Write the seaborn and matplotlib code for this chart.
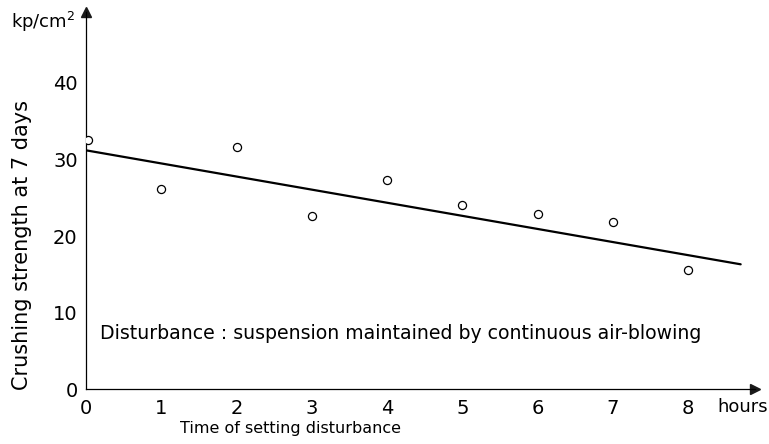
import matplotlib
matplotlib.use("Agg")
import matplotlib.pyplot as plt
import seaborn as sns
import numpy as np
import pandas as pd

# measured points (hours, kp/cm2)
hours = [0.03, 1, 2, 3, 4, 5, 6, 7, 8]
strength = [32.5, 26.1, 31.6, 22.6, 27.3, 24.1, 22.9, 21.8, 15.6]

# fitted trend line end points
line_hours = [0.0, 8.7]
line_strength = [31.2, 16.3]

x_ticks = [0, 1, 2, 3, 4, 5, 6, 7, 8]
y_ticks = [0, 10, 20, 30, 40]

sns.set_theme(style="white", rc={'text.color': 'black', 'axes.labelcolor': 'black'})
plt.rcParams['font.family'] = ['DejaVu Sans']

df = pd.DataFrame({'hours': hours, 'strength': strength})
df_line = pd.DataFrame({'hours': line_hours, 'strength': line_strength})

fig = plt.figure(figsize=(7.69, 4.44), dpi=100)
ax = fig.add_axes([86 / 769, 1 - 389 / 444, (755 - 86) / 769, (389 - 12) / 444])

sns.lineplot(data=df_line, x='hours', y='strength', color='black', linewidth=1.6, ax=ax)
sns.scatterplot(data=df, x='hours', y='strength', marker='o', s=34,
                facecolor='white', edgecolor='black', linewidth=0.9, ax=ax, zorder=3)

ax.set_xlim(0, (755 - 86) / 75.25)
ax.set_ylim(0, (389 - 12) / 7.65)
ax.set_xticks(x_ticks)
ax.set_yticks(y_ticks)
ax.tick_params(axis='x', direction='in', length=4, width=0.8, labelsize=14, pad=7, colors='black')
ax.tick_params(axis='y', direction='out', length=4, width=0.8, labelsize=14, pad=2, colors='black')

for side in ['top', 'right']:
    ax.spines[side].set_visible(False)
for side in ['left', 'bottom']:
    ax.spines[side].set_color('black')
    ax.spines[side].set_linewidth(0.9)

# axis arrows
ax.plot(1, 0, '>k', markersize=7, transform=ax.get_yaxis_transform(), clip_on=False)
ax.plot(0, 1, '^k', markersize=7, transform=ax.get_xaxis_transform(), clip_on=False)

ax.set_xlabel('Time of setting disturbance', fontsize=11.5)
ax.set_ylabel('Crushing strength at 7 days', fontsize=15)
ax.xaxis.set_label_coords((290 - 86) / 669, -(428 - 389) / 377)
ax.xaxis.label.set_va('center')
ax.yaxis.set_label_coords(-(86 - 22) / 669, (389 - 245) / 377)
ax.yaxis.label.set_va('center')

ax.text((717 - 86) / 75.25, -(407 - 389) / 377, 'hours', transform=ax.get_xaxis_transform(),
        fontsize=13, ha='left', va='center')
ax.text(-(86 - 75) / 669, 1 - (22 - 12) / 377, 'kp/cm$^2$', transform=ax.transAxes,
        fontsize=13, ha='right', va='center')

ax.text(0.19, 6.6, 'Disturbance : suspension maintained by continuous air-blowing',
        fontsize=13.6, ha='left', va='baseline')

fig.savefig('out.png', dpi=100)
